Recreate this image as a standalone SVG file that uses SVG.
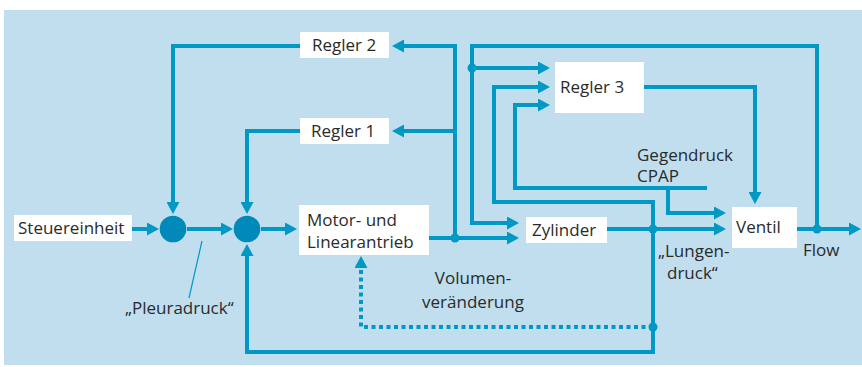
<svg xmlns="http://www.w3.org/2000/svg" width="862" height="367" viewBox="0 0 862 367">
<defs>
<style>
.bg{fill:#c0deee}
.box{fill:#ffffff}
.t{font-family:"Open Sans","Liberation Sans",sans-serif;font-size:17px;fill:#2a2a2a}
.ln{fill:none;stroke:#0099c6;stroke-width:4;marker-end:url(#ah)}
.dot{fill:#0099c6}
.sum{fill:#0089b9}
.dotted{fill:none;stroke:#0099c6;stroke-width:4;stroke-dasharray:4 3.5;marker-end:url(#ah)}
.lead{fill:none;stroke:#0099c6;stroke-width:1.2}
</style>
<marker id="ah" markerUnits="userSpaceOnUse" markerWidth="12" markerHeight="13" refX="4" refY="6.5" orient="auto">
<path d="M0,0 L12,6.5 L0,13 z" fill="#0099c6"/>
</marker>
</defs>
<rect class="bg" x="4" y="10" width="858" height="355"/>

<g id="connectors">
<path class="ln" d="M132,229 H151"/>
<path class="ln" d="M187,229 H225"/>
<path class="ln" d="M261,229 H289"/>
<path class="ln" d="M300,46 H173 V206"/>
<path class="ln" d="M300,131 H247 V206"/>
<path class="ln" d="M653,229 V352 H247 V252"/>
<path class="ln" d="M653,229 V202 H494 V87 H542"/>
<path class="ln" d="M429,238 H511"/>
<path class="ln" d="M455,238 V46 H400"/>
<path class="ln" d="M455,131 H400"/>
<path class="ln" d="M817,229 V46 H472 V223 H511"/>
<path class="ln" d="M472,68 H542"/>
<path class="ln" d="M707,188 H515 V105 H542"/>
<path class="ln" d="M668,188 V213 H718"/>
<path class="ln" d="M644,87 H755 V196"/>
<path class="ln" d="M607,229 H718"/>
<path class="ln" d="M797,229 H853"/>
<path class="dotted" d="M653,327 H361 V264"/>
<path class="lead" d="M202,241 L189,298"/>
<circle class="dot" cx="455" cy="238" r="4.5"/>
<circle class="dot" cx="472" cy="68" r="4.5"/>
<circle class="dot" cx="653" cy="229" r="4.5"/>
<circle class="dot" cx="653" cy="327" r="4.5"/>
<circle class="dot" cx="817" cy="229" r="4.5"/>
</g>

<g id="steuereinheit">
<rect class="box" x="14" y="215" width="118" height="26"/>
<text class="t" x="18" y="234">Steuereinheit</text>
</g>
<g id="sum1"><circle class="sum" cx="173" cy="229" r="13.3"/></g>
<g id="sum2"><circle class="sum" cx="247" cy="229" r="13.3"/></g>
<g id="regler2">
<rect class="box" x="300" y="32" width="89" height="26"/>
<text class="t" x="312" y="51">Regler 2</text>
</g>
<g id="regler1">
<rect class="box" x="300" y="118" width="89" height="26"/>
<text class="t" x="311" y="137">Regler 1</text>
</g>
<g id="regler3">
<rect class="box" x="555" y="62" width="89" height="51"/>
<text class="t" x="560" y="93">Regler 3</text>
</g>
<g id="motor">
<rect class="box" x="299" y="205" width="130" height="50"/>
<text class="t" x="307" y="226">Motor- und</text>
<text class="t" x="307" y="248">Linearantrieb</text>
</g>
<g id="zylinder">
<rect class="box" x="526" y="217" width="81" height="26"/>
<text class="t" x="532" y="236">Zylinder</text>
</g>
<g id="ventil">
<rect class="box" x="732" y="207" width="65" height="41"/>
<text class="t" x="736" y="233">Ventil</text>
</g>
<g id="labels">
<text class="t" x="125" y="314">„Pleuradruck“</text>
<text class="t" x="473" y="284" text-anchor="middle">Volumen-</text>
<text class="t" x="473" y="308" text-anchor="middle">veränderung</text>
<text class="t" x="658" y="257">„Lungen-</text>
<text class="t" x="667" y="279">druck“</text>
<text class="t" x="803" y="256">Flow</text>
<text class="t" x="637" y="161">Gegendruck</text>
<text class="t" x="637" y="182">CPAP</text>
</g>
</svg>
